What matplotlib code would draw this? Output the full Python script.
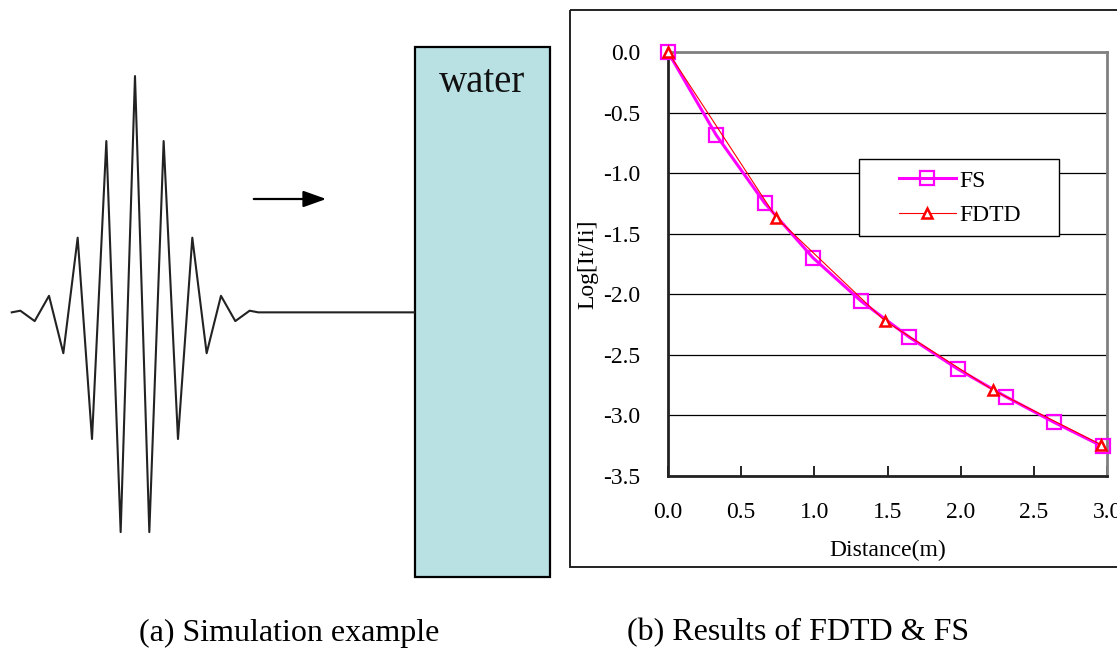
import numpy as np
import matplotlib
matplotlib.use("Agg")
import matplotlib.pyplot as plt
from matplotlib.patches import Rectangle

plt.rcParams['font.family'] = ['Liberation Serif', 'DejaVu Serif']

# incident wave packet (extrema, in half periods) for panel (a)
wave_t = [-8.6, -8, -7, -6, -5, -4, -3, -2, -1, 0, 1, 2, 3, 4, 5, 6, 7, 8, 8.6, 19.6]
wave_amp = [0.0, 0.007, -0.037, 0.070, -0.173, 0.316, -0.536, 0.725, -0.93, 1.0,
            -0.93, 0.725, -0.536, 0.316, -0.173, 0.070, -0.037, 0.007, 0.0, 0.0]

# panel (b) results
fs_x = [0.0, 0.33, 0.66, 0.99, 1.32, 1.65, 1.98, 2.31, 2.64, 2.97]
fs_y = [0.0, -0.687, -1.246, -1.698, -2.057, -2.355, -2.617, -2.846, -3.058, -3.256]
fdtd_x = [0.0, 0.74, 1.48, 2.22, 2.96]
fdtd_y = [0.0, -1.367, -2.217, -2.790, -3.242]

x_ticks = [0.0, 0.5, 1.0, 1.5, 2.0, 2.5, 3.0]
y_ticks = [0.0, -0.5, -1.0, -1.5, -2.0, -2.5, -3.0, -3.5]

W, H = 1117, 652
fig = plt.figure(figsize=(W / 100, H / 100), dpi=100)


def px_rect(x0, y0, x1, y1):
    # figure fraction rect from pixel box (top-left origin)
    return [x0 / W, 1 - y1 / H, (x1 - x0) / W, (y1 - y0) / H]


# background drawing layer in pixel coordinates
bg = fig.add_axes([0, 0, 1, 1])
bg.set_xlim(0, W)
bg.set_ylim(H, 0)
bg.axis('off')

# water slab
bg.add_patch(Rectangle((415, 47), 135, 530, facecolor='#b9e0e3', edgecolor='black', lw=1.6))
bg.text(482, 83, 'water', fontsize=28, ha='center', va='center', color='#111111')

# propagation arrow
bg.annotate('', xy=(329, 199), xytext=(251, 199),
            arrowprops=dict(arrowstyle='-|>,head_length=1.4,head_width=0.5', color='black', lw=1.6))

# frame around the results chart
bg.add_patch(Rectangle((570, 10), 560, 557, facecolor='none', edgecolor='#222222', lw=1.4))

# captions
bg.text(289, 633, '(a) Simulation example', fontsize=23, ha='center', va='center')
bg.text(798, 633, '(b) Results of FDTD & FS', fontsize=23, ha='center', va='center')

# wave packet
aw = fig.add_axes(px_rect(0, 47, 415, 577))
aw.plot(wave_t, wave_amp, color='#222222', lw=1.5, solid_joinstyle='round')
aw.set_xlim(-9.42, 19.54)
aw.set_ylim(-1.12, 1.123)
aw.axis('off')

# results chart
ax = fig.add_axes(px_rect(668, 52, 1107, 476))
ax.plot(fs_x, fs_y, color='#ff00ff', lw=2.2, marker='s', markersize=10, clip_on=False,
        markerfacecolor='none', markeredgecolor='#ff00ff', markeredgewidth=1.6, label='FS', zorder=3)
ax.plot(fdtd_x, fdtd_y, color='#ff0000', lw=0.8, marker='^', markersize=7, clip_on=False,
        markerfacecolor='white', markeredgecolor='#ff0000', markeredgewidth=1.8, label='FDTD', zorder=4)

ax.set_xlim(0, 3.0)
ax.set_ylim(-3.5, 0.0)
ax.set_xticks(x_ticks)
ax.set_xticklabels(['%.1f' % v for v in x_ticks])
ax.set_yticks(y_ticks)
ax.set_yticklabels(['%.1f' % v for v in y_ticks])
ax.tick_params(axis='x', direction='in', length=7, width=1.2, pad=19, labelsize=17)
ax.tick_params(axis='y', length=0, pad=20, labelsize=17)
ax.yaxis.grid(True, color='black', lw=0.9)
ax.set_axisbelow(True)
for s in ['top', 'right']:
    ax.spines[s].set_color('#808080')
    ax.spines[s].set_linewidth(2)
for s in ['left', 'bottom']:
    ax.spines[s].set_color('#222222')
    ax.spines[s].set_linewidth(2)
ax.set_xlabel('Distance(m)', fontsize=17, labelpad=12)
ax.set_ylabel('Log[It/Ii]', fontsize=17, labelpad=3)

# legend with a manual box
leg = ax.legend(loc='center left', bbox_to_anchor=(899 / W, 1 - 198 / H), bbox_transform=fig.transFigure,
                frameon=False, borderpad=0, borderaxespad=0, fontsize=17, handlelength=2.4,
                handletextpad=0.15, labelspacing=0.55)
leg.set_zorder(6)
ax.add_patch(Rectangle((859 / W, 1 - 236 / H), 200 / W, 77 / H, transform=fig.transFigure,
                       facecolor='white', edgecolor='black', lw=1.0, zorder=5))

fig.savefig('out.png', dpi=100)
